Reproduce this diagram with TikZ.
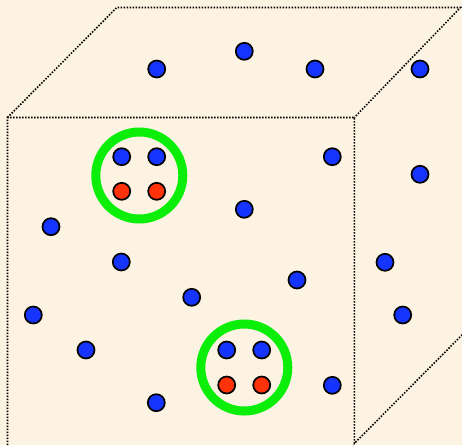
\documentclass[tikz,border=0pt]{standalone}
\definecolor{bgcream}{RGB}{252,243,226}
\definecolor{dotblue}{RGB}{22,52,255}
\definecolor{dotred}{RGB}{255,50,10}
\definecolor{ringgreen}{RGB}{10,238,10}
\tikzset{
  edgeline/.style={line width=1.6pt, dash pattern=on 1.5pt off 1.5pt, black},
  bdot/.style={circle, draw=black, line width=1.7pt, fill=dotblue, minimum size=17pt, inner sep=0pt},
  rdot/.style={circle, draw=black, line width=1.7pt, fill=dotred, minimum size=17pt, inner sep=0pt},
  ring/.style={circle, draw=ringgreen, line width=9pt, minimum size=87pt, inner sep=0pt}
}
\begin{document}
\begin{tikzpicture}[x=1pt,y=-1pt]
\fill[bgcream] (0,0) rectangle (462,445);
\useasboundingbox (0,0) rectangle (462,445);
% cube edges
\coordinate (fbl) at (7.5,445);
\coordinate (ftl) at (7.5,117.5);
\coordinate (ftr) at (354.3,117.5);
\coordinate (fbr) at (354.3,443.5);
\coordinate (btl) at (116.8,7.5);
\coordinate (btr) at (460.5,7.5);
\coordinate (bbr) at (463.5,333.5);
\draw[edgeline] (fbl) -- (ftl) -- (ftr) -- (fbr) -- (bbr);
\draw[edgeline] (ftl) -- (btl) -- (btr) -- (ftr);
% rings
\node[ring] (ring1) at (139.3,175.5) {};
\node[ring] (ring2) at (244.3,367.5) {};
% pairs inside rings
\node[bdot] (a1) at (121.7,156.7) {};
\node[bdot] (a2) at (156.7,156.7) {};
\node[rdot] (a3) at (121.7,191.3) {};
\node[rdot] (a4) at (156.7,191.3) {};
\node[bdot] (b1) at (226.7,350) {};
\node[bdot] (b2) at (261.7,350) {};
\node[rdot] (b3) at (226.7,385) {};
\node[rdot] (b4) at (261.7,385) {};
% free blue dots
\node[bdot] (d1) at (156.7,69) {};
\node[bdot] (d2) at (244.3,51.3) {};
\node[bdot] (d3) at (315,69) {};
\node[bdot] (d4) at (420,69) {};
\node[bdot] (d5) at (332.3,156.7) {};
\node[bdot] (d6) at (420,174.3) {};
\node[bdot] (d7) at (244.3,209.3) {};
\node[bdot] (d8) at (51,226.7) {};
\node[bdot] (d9) at (121.3,262) {};
\node[bdot] (d10) at (385,262.3) {};
\node[bdot] (d11) at (297,280) {};
\node[bdot] (d12) at (191.7,297.3) {};
\node[bdot] (d13) at (33.3,315) {};
\node[bdot] (d14) at (402.7,315) {};
\node[bdot] (d15) at (86,350) {};
\node[bdot] (d16) at (332.3,385.3) {};
\node[bdot] (d17) at (156.3,402.7) {};
\end{tikzpicture}
\end{document}
